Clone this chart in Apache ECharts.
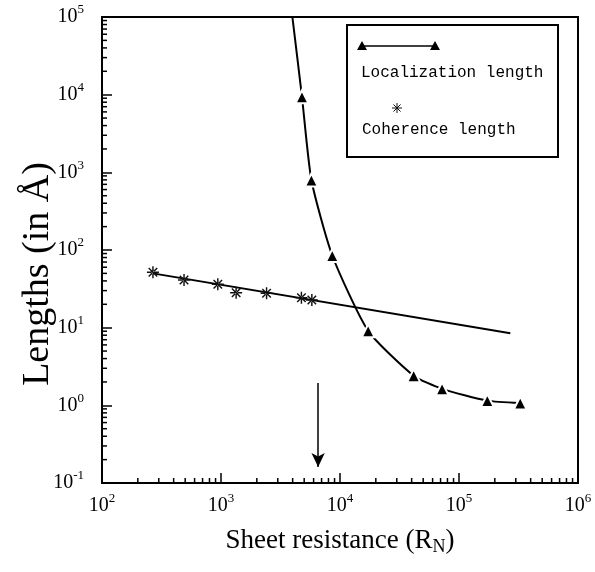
<!DOCTYPE html>
<html>
<head>
<meta charset="utf-8">
<script src="https://cdn.jsdelivr.net/npm/echarts@6/dist/echarts.min.js"></script>
<style>
html, body { margin: 0; padding: 0; background: #fff; }
#container { width: 595px; height: 572px; }
</style>
</head>
<body>
<div id="container"></div>
<script>
// coherence length (stars)
var cohResistance = [268, 489, 940, 1340, 2415, 4740, 5800];
var cohLength = [51.6, 41.1, 36.2, 28.2, 27.7, 24.3, 22.7];

// straight fit through the coherence points
var fitResistance = [268, 270000];
var fitLength = [50, 8.5];

// localization length (triangles); first point is where the curve leaves the top
var locResistance = [3980, 4790, 5750, 8610, 17250, 41600, 72100, 173000, 327000];
var locLength = [100000, 9400, 796, 85, 9.1, 2.41, 1.63, 1.15, 1.07];

// arrow marking the transition
var arrowResistance = 6550;
var arrowLength = [1.94, 0.161];

var serif = '"Liberation Serif", "Times New Roman", serif';
var mono = '"Liberation Mono", "Courier New", monospace';

var starPath = 'path://M-0.6,-5L0.6,-5L0.6,5L-0.6,5Z' +
    'M-5,-0.6L5,-0.6L5,0.6L-5,0.6Z' +
    'M-3.11,-3.96L3.96,3.11L3.11,3.96L-3.96,-3.11Z' +
    'M3.11,-3.96L-3.96,3.11L-3.11,3.96L3.96,-3.11Z';

function zip(xs, ys) {
    return xs.map(function (x, i) { return [x, ys[i]]; });
}

function powLabel(v) {
    var e = Math.round(Math.log10(v));
    return '{b|10}{s|' + e + '}';
}

var labelRich = {
    b: { fontSize: 20, fontFamily: serif, color: '#000' },
    s: { fontSize: 13, fontFamily: serif, color: '#000', padding: [0, 0, 14, 0] }
};

// log minor ticks (2..9 of each decade)
var minorX = [];
for (var d = 2; d <= 5; d++) {
    for (var k = 2; k <= 9; k++) minorX.push([k * Math.pow(10, d), 0.1]);
}
var minorY = [];
for (var e = -1; e <= 4; e++) {
    for (var j = 2; j <= 9; j++) minorY.push([100, j * Math.pow(10, e)]);
}

function minorTick(dx, dy) {
    return function (params, api) {
        var p = api.coord([api.value(0), api.value(1)]);
        return {
            type: 'line',
            shape: { x1: p[0], y1: p[1], x2: p[0] + dx, y2: p[1] + dy },
            style: { stroke: '#000', lineWidth: 1.5 }
        };
    };
}

function tri(x, y) {
    return {
        type: 'polygon', z: 101,
        shape: { points: [[x - 5, y + 4], [x + 5, y + 4], [x, y - 5]] },
        style: { fill: '#000' }
    };
}

function star(x, y, r) {
    var a = r * 0.71;
    var segs = [[0, -r, 0, r], [-r, 0, r, 0], [-a, -a, a, a], [-a, a, a, -a]];
    return {
        type: 'group', z: 101,
        children: segs.map(function (s) {
            return {
                type: 'line', z: 101,
                shape: { x1: x + s[0], y1: y + s[1], x2: x + s[2], y2: y + s[3] },
                style: { stroke: '#111', lineWidth: 1 }
            };
        })
    };
}

var myChart = echarts.init(document.getElementById('container'));

myChart.setOption({
    animation: false,
    grid: {
        left: 102, right: 17, top: 17, bottom: 89,
        outerBoundsMode: 'none',
        containLabel: false,
        show: true, borderColor: '#000', borderWidth: 2
    },
    xAxis: {
        type: 'log', logBase: 10, min: 100, max: 1000000, splitNumber: 4,
        name: '{t|Sheet resistance (R}{sub|N}{t|)}',
        nameLocation: 'middle', nameGap: 43,
        nameTextStyle: {
            rich: {
                t: { fontSize: 27, fontFamily: serif, color: '#000' },
                sub: { fontSize: 18, fontFamily: serif, color: '#000', padding: [12, 0, 0, 0] }
            }
        },
        axisLine: { lineStyle: { color: '#000', width: 2 } },
        axisTick: { inside: true, length: 10, lineStyle: { color: '#000', width: 1.5 } },
        splitLine: { show: false },
        axisLabel: { margin: 9, formatter: powLabel, rich: labelRich }
    },
    yAxis: {
        type: 'log', logBase: 10, min: 0.1, max: 100000, splitNumber: 6,
        name: 'Lengths (in \u00C5)',
        nameLocation: 'middle', nameGap: 45, nameRotate: 90,
        nameMoveOverlap: false,
        nameTextStyle: { fontSize: 38, fontFamily: serif, color: '#000', padding: [0, 48, 0, 0] },
        axisLine: { lineStyle: { color: '#000', width: 2 } },
        axisTick: { inside: true, length: 10, lineStyle: { color: '#000', width: 1.5 } },
        splitLine: { show: false },
        axisLabel: { margin: 18, formatter: powLabel, rich: labelRich }
    },
    series: [
        {
            type: 'custom', data: minorX, silent: true, clip: false,
            renderItem: minorTick(0, -5)
        },
        {
            type: 'custom', data: minorY, silent: true, clip: false,
            renderItem: minorTick(5, 0)
        },
        {
            name: 'fit',
            type: 'line',
            data: zip(fitResistance, fitLength),
            symbol: 'none',
            lineStyle: { color: '#000', width: 2 },
            markLine: {
                silent: true,
                symbol: ['none', 'arrow'],
                symbolSize: [10, 14],
                label: { show: false },
                lineStyle: { color: '#000', width: 1.5, type: 'solid' },
                data: [[
                    { coord: [arrowResistance, arrowLength[0]] },
                    { coord: [arrowResistance, arrowLength[1]] }
                ]]
            }
        },
        {
            name: 'Coherence length',
            type: 'line',
            data: zip(cohResistance, cohLength),
            lineStyle: { width: 0 },
            symbol: starPath,
            symbolSize: 12,
            itemStyle: { color: '#111' },
            z: 3
        },
        {
            name: 'Localization length',
            type: 'line',
            data: zip(locResistance, locLength),
            smooth: 0.2,
            symbol: function (v, params) { return params.dataIndex === 0 ? 'none' : 'triangle'; },
            symbolSize: 13,
            itemStyle: { color: '#000', borderColor: '#fff', borderWidth: 2 },
            lineStyle: { color: '#000', width: 2 },
            z: 4
        }
    ],
    graphic: [
        {
            type: 'rect', z: 100,
            shape: { x: 347, y: 25, width: 211, height: 132 },
            style: { fill: '#fff', stroke: '#000', lineWidth: 2 }
        },
        {
            type: 'line', z: 101,
            shape: { x1: 362, y1: 46, x2: 435, y2: 46 },
            style: { stroke: '#000', lineWidth: 1.5 }
        },
        tri(362, 46),
        tri(435, 46),
        {
            type: 'text', z: 101, x: 361, y: 73,
            style: { text: 'Localization length', font: '16px ' + mono, fill: '#000', verticalAlign: 'middle' }
        },
        star(397, 108, 5),
        {
            type: 'text', z: 101, x: 362, y: 130,
            style: { text: 'Coherence length', font: '16px ' + mono, fill: '#000', verticalAlign: 'middle' }
        }
    ]
});
</script>
</body>
</html>
